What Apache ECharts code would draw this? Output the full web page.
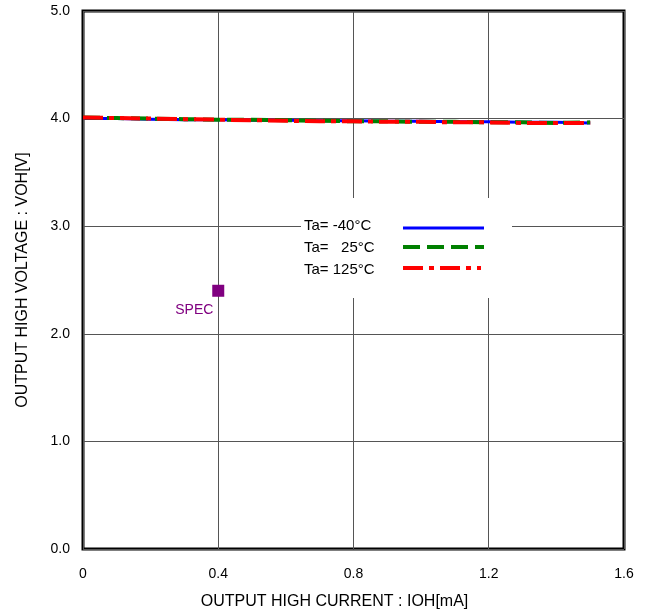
<!DOCTYPE html>
<html>
<head>
<meta charset="utf-8">
<script src="https://cdn.jsdelivr.net/npm/echarts@6/dist/echarts.min.js"></script>
<style>
html,body{margin:0;padding:0;background:#fff;}
#c{width:649px;height:615px;}
</style>
</head>
<body>
<div id="c"></div>
<script>
const currents = [0,0.1,0.2,0.3,0.4,0.5,0.6,0.7,0.8,0.9,1.0,1.1,1.2,1.3,1.4,1.5];
const vohM40 = [4.00,4.00,3.995,3.99,3.99,3.985,3.985,3.98,3.98,3.975,3.975,3.97,3.97,3.965,3.965,3.96];
const voh25 = [4.01,4.005,4.0,3.995,3.99,3.99,3.985,3.98,3.975,3.975,3.97,3.97,3.965,3.965,3.96,3.965];
const voh125 = [4.01,4.005,4.0,3.995,3.99,3.985,3.98,3.975,3.975,3.97,3.97,3.965,3.965,3.96,3.96,3.96];
const specPoint = [0.4, 2.4];
const seriesNames = ['Ta= -40°C', 'Ta=   25°C', 'Ta= 125°C'];
const xTicks = [0, 0.4, 0.8, 1.2, 1.6];
const yTicks = [0, 1, 2, 3, 4, 5];

const pair = (xs, ys) => xs.map((x, i) => [x, ys[i]]);
const font = 'Liberation Sans, Arial, sans-serif';
const colors = ['#0000ff', '#008000', '#ff0000'];
const dashes = ['solid', [17, 7], [20, 6, 5, 6]];
const widths = [3, 4, 4];

// legend drawn as graphic (white box with sample lines)
const textRows = [227, 249, 271];
const lineRows = [228, 247, 268];
const legendGraphic = [
  {type: 'rect', left: 301, top: 198, shape: {width: 211, height: 100}, style: {fill: '#fff'}, z: 10}
];
seriesNames.forEach((n, i) => {
  legendGraphic.push({type: 'text', left: 304, top: textRows[i] - 9, z: 11,
    style: {text: n, fill: '#000', font: '15px ' + font}});
  legendGraphic.push({type: 'line', z: 11,
    shape: {x1: 403, y1: lineRows[i], x2: i === 2 ? 481 : 484, y2: lineRows[i]},
    style: {stroke: colors[i], lineWidth: widths[i], lineDash: dashes[i] === 'solid' ? null : dashes[i]}});
});

const chart = echarts.init(document.getElementById('c'), null, {renderer: 'canvas'});
chart.setOption({
  animation: false,
  backgroundColor: '#fff',
  grid: {left: 83, right: 25, top: 11, bottom: 66, show: true, borderColor: '#000', borderWidth: 3, backgroundColor: 'transparent'},
  xAxis: {
    type: 'value', min: 0, max: 1.6, interval: 0.4,
    axisLine: {show: false}, axisTick: {show: false},
    splitLine: {show: true, lineStyle: {color: '#555', width: 1}},
    axisLabel: {margin: 18, color: '#000', fontFamily: font, fontSize: 14,
      formatter: v => { const t = xTicks.find(t => Math.abs(t - v) < 1e-9); return t === 0 ? '0' : t.toFixed(1); }},
    name: 'OUTPUT HIGH CURRENT : IOH[mA]', nameLocation: 'middle', nameGap: 45,
    nameTextStyle: {color: '#000', fontFamily: font, fontSize: 16, padding: [0, 38, 0, 0]}
  },
  yAxis: {
    type: 'value', min: 0, max: 5, interval: 1,
    axisLine: {show: false}, axisTick: {show: false},
    splitLine: {show: true, lineStyle: {color: '#555', width: 1}},
    axisLabel: {margin: 13, color: '#000', fontFamily: font, fontSize: 14,
      formatter: v => yTicks.find(t => Math.abs(t - v) < 1e-9).toFixed(1)},
    name: 'OUTPUT HIGH VOLTAGE : VOH[V]', nameLocation: 'middle', nameGap: 52,
    nameTextStyle: {color: '#000', fontFamily: font, fontSize: 16}
  },
  graphic: legendGraphic,
  series: [
    {name: seriesNames[0], type: 'line', data: pair(currents, vohM40), symbol: 'none', z: 3,
     lineStyle: {color: colors[0], width: widths[0], type: dashes[0]}},
    {name: seriesNames[1], type: 'line', data: pair(currents, voh25), symbol: 'none', z: 4,
     lineStyle: {color: colors[1], width: widths[1], type: dashes[1]}},
    {name: seriesNames[2], type: 'line', data: pair(currents, voh125), symbol: 'none', z: 5,
     lineStyle: {color: colors[2], width: widths[2], type: dashes[2]}},
    {name: 'SPEC', type: 'scatter', data: [specPoint], symbol: 'rect', symbolSize: 12, z: 6,
     itemStyle: {color: '#800080', opacity: 1},
     label: {show: true, formatter: 'SPEC', position: [-37, 18], align: 'left', verticalAlign: 'top',
       color: '#800080', fontFamily: font, fontSize: 14}}
  ]
});
</script>
</body>
</html>
